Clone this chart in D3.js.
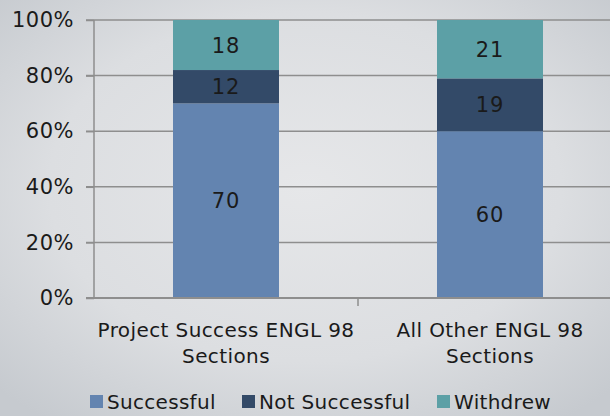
<!DOCTYPE html>
<html>
<head>
<meta charset="utf-8">
<script src="https://cdn.jsdelivr.net/npm/d3@7"></script>
<style>
  body { margin: 0; }
  svg text { font-family: "DejaVu Sans", sans-serif; fill: #1a1a1a; }
  .gridline { stroke: #8e8e8e; stroke-width: 1.5; }
</style>
</head>
<body>
<div id="chart"></div>
<script>
// data
var categories = ["Project Success ENGL 98|Sections", "All Other ENGL 98|Sections"];
var seriesNames = ["Successful", "Not Successful", "Withdrew"];
var successful = [70, 60];
var notSuccessful = [12, 19];
var withdrew = [18, 21];
var yTicks = [0, 20, 40, 60, 80, 100];
var colors = ["#6384b0", "#334a68", "#5ca0a6"];

var W = 610, H = 416;
var margin = {top: 20, right: -12, bottom: 118, left: 94};
var width = W - margin.left - margin.right,
    height = H - margin.top - margin.bottom;

var svg = d3.select("#chart").append("svg")
  .attr("width", W).attr("height", H);

// gray background with lighter middle
var defs = svg.append("defs");
var grad = defs.append("radialGradient").attr("id", "bg")
  .attr("cx", "50%").attr("cy", "45%").attr("r", "70%");
grad.append("stop").attr("offset", "0%").attr("stop-color", "#e6e7e9");
grad.append("stop").attr("offset", "60%").attr("stop-color", "#dcdee1");
grad.append("stop").attr("offset", "100%").attr("stop-color", "#c6cacf");
svg.append("rect").attr("width", W).attr("height", H).attr("fill", "url(#bg)");

var g = svg.append("g")
  .attr("transform", "translate(" + margin.left + "," + margin.top + ")");

var x = d3.scaleBand().domain(categories).range([0, width]).paddingInner(0).paddingOuter(0);
var y = d3.scaleLinear().domain([0, 100]).range([height, 0]);

// horizontal gridlines
g.append("g").selectAll("line")
  .data(yTicks.filter(d => d > 0))
  .enter().append("line")
  .attr("class", "gridline")
  .attr("x1", -8).attr("x2", width)
  .attr("y1", d => y(d)).attr("y2", d => y(d));

// stacked data
var rows = categories.map(function (c, i) {
  return {cat: c, Successful: successful[i], "Not Successful": notSuccessful[i], Withdrew: withdrew[i]};
});
var stack = d3.stack().keys(seriesNames)(rows);
var barW = 106;

var layers = g.append("g").selectAll("g.layer")
  .data(stack).enter().append("g")
  .attr("class", "layer")
  .attr("fill", (d, i) => colors[i]);

layers.selectAll("rect")
  .data(d => d)
  .enter().append("rect")
  .attr("x", d => x(d.data.cat) + x.bandwidth() / 2 - barW / 2)
  .attr("width", barW)
  .attr("y", d => y(d[1]))
  .attr("height", d => y(d[0]) - y(d[1]));

layers.selectAll("text")
  .data(d => d)
  .enter().append("text")
  .attr("x", d => x(d.data.cat) + x.bandwidth() / 2)
  .attr("y", d => (y(d[0]) + y(d[1])) / 2)
  .attr("dy", "0.36em")
  .attr("text-anchor", "middle")
  .style("font-size", "21px")
  .style("letter-spacing", "1px")
  .text(d => d[1] - d[0]);

// y axis
var yAxis = g.append("g")
  .call(d3.axisLeft(y).tickValues(yTicks).tickFormat(d => d + "%").tickSize(8).tickPadding(12));
yAxis.select(".domain").attr("stroke", "#8e8e8e").attr("stroke-width", 1.5).attr("d", "M0,0V" + height);
yAxis.selectAll(".tick line").attr("stroke", "#8e8e8e").attr("stroke-width", 1.5);
yAxis.selectAll("text").style("font-size", "21px").style("letter-spacing", "0.5px").attr("fill", "#1a1a1a");

// x axis
var xAxis = g.append("g")
  .attr("transform", "translate(0," + height + ")");
xAxis.append("line")
  .attr("x1", -8).attr("x2", width)
  .attr("stroke", "#8e8e8e").attr("stroke-width", 2);
xAxis.selectAll("line.tk")
  .data(categories.slice(1))
  .enter().append("line").attr("class", "tk")
  .attr("x1", d => x(d)).attr("x2", d => x(d))
  .attr("y1", 0).attr("y2", 8)
  .attr("stroke", "#8e8e8e").attr("stroke-width", 1.5);
var catLabels = xAxis.selectAll("text.cat")
  .data(categories).enter().append("text").attr("class", "cat")
  .attr("text-anchor", "middle")
  .style("font-size", "20px")
  .style("letter-spacing", "0.4px");
catLabels.each(function (d) {
  var t = d3.select(this);
  d.split("|").forEach(function (line, i) {
    t.append("tspan")
      .attr("x", x(d) + x.bandwidth() / 2)
      .attr("y", 39 + i * 26)
      .text(line);
  });
});

// legend
var legendX = [90, 242, 437];
var legend = svg.append("g").attr("transform", "translate(0,402)");
var items = legend.selectAll("g").data(seriesNames).enter().append("g")
  .attr("transform", (d, i) => "translate(" + legendX[i] + ",0)");
items.append("rect").attr("x", 0).attr("y", -7).attr("width", 13).attr("height", 13)
  .attr("fill", (d, i) => colors[i]);
items.append("text").attr("x", 17).attr("dy", "0.36em")
  .style("font-size", "20px").style("letter-spacing", "0.3px").text(d => d);
</script>
</body>
</html>
